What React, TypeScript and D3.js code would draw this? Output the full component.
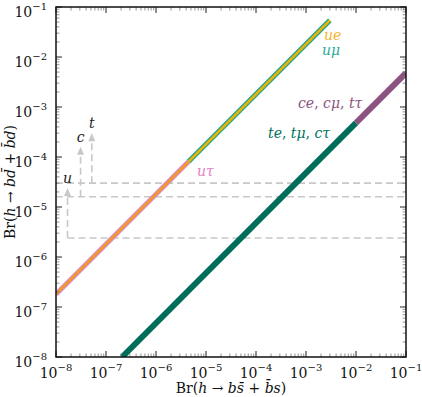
import React from "react";
import * as d3 from "d3";

// upper line: Br(bd) = ~18 x Br(bs)
const uTauLine = [
  [1e-8, 1.8e-7],
  [4.5e-6, 8.1e-5],
];
const uELine = [
  [4.5e-6, 8.1e-5],
  [3e-3, 5.4e-2],
];
// lower line
const teLine = [
  [2.1e-7, 1e-8],
  [1e-2, 4.8e-4],
];
const ceLine = [
  [1e-2, 4.8e-4],
  [1e-1, 4.8e-3],
];
// bounds: arrow x, bound value, start of the dashed line
const bounds = [
  { q: "u", x: 1.7e-8, y: 2.4e-6, x0: 1.7e-8 },
  { q: "c", x: 3.1e-8, y: 1.6e-5, x0: 1e-8 },
  { q: "t", x: 5.2e-8, y: 3e-5, x0: 1e-8 },
];
const decades = [-8, -7, -6, -5, -4, -3, -2, -1];

const W = 422;
const H = 397;
const left = 56, right = 406, top = 7, bottom = 357;
const font = "'DejaVu Serif', 'Liberation Serif', serif";

export default function App() {
  const x = d3.scaleLog().domain([1e-8, 1e-1]).range([left, right]);
  const y = d3.scaleLog().domain([1e-8, 1e-1]).range([bottom, top]);
  const line = d3
    .line<number[]>()
    .x((d) => x(d[0]))
    .y((d) => y(d[1]));

  const majors = decades.map((k) => Math.pow(10, k));
  const minors: number[] = [];
  decades.slice(0, -1).forEach((k) => {
    for (let m = 2; m <= 9; m++) minors.push(m * Math.pow(10, k));
  });

  const gray = "#c8c8c8";
  const dash = "7,4";

  return (
    <svg width={W} height={H} style={{ position: "absolute", left: 0, top: 0, background: "#fff" }} fontFamily={font}>
      <defs>
        <clipPath id="plot">
          <rect x={left} y={top} width={right - left} height={bottom - top} />
        </clipPath>
      </defs>

      {/* bounds */}
      <g stroke={gray} strokeWidth={1.6} strokeDasharray={dash} fill="none">
        {bounds.map((b) => (
          <g key={b.q}>
            <line x1={x(b.x0)} x2={right} y1={y(b.y)} y2={y(b.y)} />
            <line x1={x(b.x)} x2={x(b.x)} y1={y(b.y)} y2={y(b.y * 10) + 6} />
          </g>
        ))}
      </g>
      {bounds.map((b) => {
        const ax = x(b.x);
        const ay = y(b.y * 10);
        return (
          <g key={"a" + b.q}>
            <path d={`M${ax},${ay} L${ax - 3.5},${ay + 8} L${ax + 3.5},${ay + 8} Z`} fill={gray} />
            <text x={ax} y={ay - 5} textAnchor="middle" fontSize={14} fontStyle="italic" fill="#222">
              {b.q}
            </text>
          </g>
        );
      })}

      {/* lines */}
      <g clipPath="url(#plot)" fill="none">
        <path d={line(uTauLine) || ""} stroke="#d98cc4" strokeWidth={5} />
        <path d={line(uTauLine) || ""} stroke="#f39a1e" strokeWidth={2.4} />
        <path d={line(uELine) || ""} stroke="#22a58e" strokeWidth={5} />
        <path d={line(uELine) || ""} stroke="#f0b400" strokeWidth={2.4} />
        <path d={line(teLine) || ""} stroke="#006d5b" strokeWidth={6} />
        <path d={line(ceLine) || ""} stroke="#8c5381" strokeWidth={6} />
      </g>

      {/* line labels */}
      <g fontSize={14} fontStyle="italic">
        <text x={324} y={40} fill="#f5b530">ue</text>
        <text x={322} y={55} fill="#2aa99c">uμ</text>
        <text x={197} y={176} fill="#e27fc6">uτ</text>
        <text x={298} y={108} fill="#8c5381">
          ce<tspan fontStyle="normal">, </tspan>cμ<tspan fontStyle="normal">, </tspan>tτ
        </text>
        <text x={268} y={138} fill="#00725f">
          te<tspan fontStyle="normal">, </tspan>tμ<tspan fontStyle="normal">, </tspan>cτ
        </text>
      </g>

      {/* ticks */}
      <g stroke="#222" strokeWidth={1}>
        {majors.map((v) => (
          <g key={"M" + v}>
            <line x1={x(v)} x2={x(v)} y1={bottom} y2={bottom - 6} />
            <line x1={x(v)} x2={x(v)} y1={top} y2={top + 6} />
            <line y1={y(v)} y2={y(v)} x1={left} x2={left + 6} />
            <line y1={y(v)} y2={y(v)} x1={right} x2={right - 6} />
          </g>
        ))}
      </g>
      <g stroke="#777" strokeWidth={0.8}>
        {minors.map((v) => (
          <g key={"m" + v}>
            <line x1={x(v)} x2={x(v)} y1={bottom} y2={bottom - 3.5} />
            <line x1={x(v)} x2={x(v)} y1={top} y2={top + 3.5} />
            <line y1={y(v)} y2={y(v)} x1={left} x2={left + 3.5} />
            <line y1={y(v)} y2={y(v)} x1={right} x2={right - 3.5} />
          </g>
        ))}
      </g>
      <rect x={left} y={top} width={right - left} height={bottom - top} fill="none" stroke="#111" strokeWidth={1.5} />

      {/* tick labels */}
      <g fontSize={14} fill="#111">
        {decades.map((k) => (
          <text key={"xl" + k} x={x(Math.pow(10, k))} y={378} textAnchor="middle">
            10<tspan dy={-7} fontSize={10}>{"−" + -k}</tspan>
          </text>
        ))}
        {decades.map((k) => (
          <text key={"yl" + k} x={47} y={y(Math.pow(10, k)) + 10} textAnchor="end">
            10<tspan dy={-7} fontSize={10}>{"−" + -k}</tspan>
          </text>
        ))}
      </g>

      {/* axis titles */}
      <text x={231} y={393} textAnchor="middle" fontSize={14} fill="#111">
        Br(<tspan fontStyle="italic">h</tspan> → <tspan fontStyle="italic">bs̄</tspan> + <tspan fontStyle="italic">b̄s</tspan>)
      </text>
      <text transform="translate(15,182) rotate(-90)" textAnchor="middle" fontSize={14} fill="#111">
        Br(<tspan fontStyle="italic">h</tspan> → <tspan fontStyle="italic">bd̄</tspan> + <tspan fontStyle="italic">b̄d</tspan>)
      </text>
    </svg>
  );
}
